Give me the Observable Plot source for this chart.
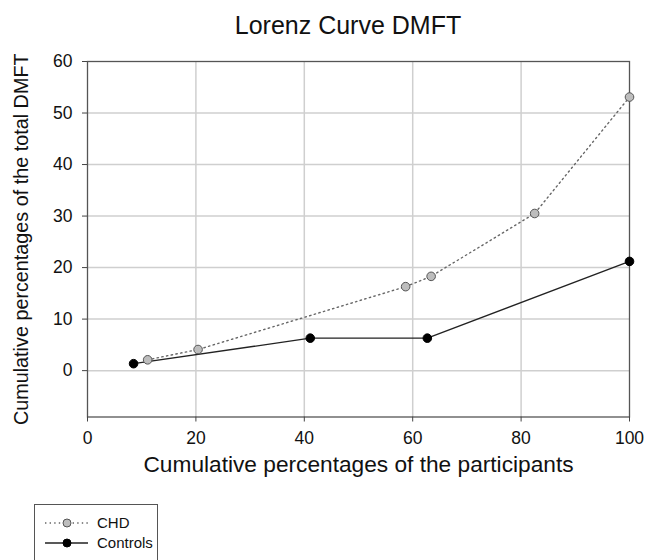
<!DOCTYPE html>
<html>
<head>
<meta charset="utf-8">
<script src="https://cdn.jsdelivr.net/npm/d3@7"></script>
<script src="https://cdn.jsdelivr.net/npm/@observablehq/plot@0.6"></script>
<style>
  body { margin: 0; background: #fff; font-family: "Liberation Sans", Arial, sans-serif; width: 646px; height: 560px; overflow: hidden; position: relative; }
  #title { position: absolute; left: 0; top: 13px; width: 696px; text-align: center; font-size: 25px; line-height: 24px; color: #111; }
  #chart { position: absolute; left: 0; top: 50px; }
  #legend { position: absolute; left: 34px; top: 504px; width: 124px; height: 70px; border: 1px solid #555; box-sizing: border-box; }
</style>
</head>
<body>
<div id="title">Lorenz Curve DMFT</div>
<div id="chart"></div>
<div id="legend"></div>
<script>
// Data
const chdX = [11.1, 20.4, 58.7, 63.4, 82.5, 100];
const chdY = [2.1, 4.1, 16.3, 18.3, 30.5, 53.1];
const ctrlX = [8.5, 41.1, 62.7, 100];
const ctrlY = [1.35, 6.3, 6.3, 21.2];
const xTicks = [0, 20, 40, 60, 80, 100];
const yTicks = [0, 10, 20, 30, 40, 50, 60];
const xGrid = [20, 40, 60, 80];
const yGrid = [0, 10, 20, 30, 40, 50];
const xLabel = "Cumulative percentages of the participants";
const yLabel = "Cumulative percentages of the total DMFT";
const seriesNames = ["CHD", "Controls"];

const chd = chdX.map((x, i) => ({x, y: chdY[i]}));
const ctrl = ctrlX.map((x, i) => ({x, y: ctrlY[i]}));

const plot = Plot.plot({
  width: 646,
  height: 450,
  marginLeft: 87,
  marginRight: 17,
  marginTop: 11,
  marginBottom: 83.5,
  style: {fontFamily: "'Liberation Sans', Arial, sans-serif", fontSize: "17px", color: "#111", background: "#fff", overflow: "visible"},
  x: {domain: [0, 100]},
  y: {domain: [-9, 60]},
  marks: [
    Plot.gridX(xGrid, {stroke: "#cfcfcf", strokeOpacity: 1, strokeWidth: 1.5}),
    Plot.gridY(yGrid, {stroke: "#cfcfcf", strokeOpacity: 1, strokeWidth: 1.5}),
    Plot.frame({stroke: "#555", strokeWidth: 1.3}),
    Plot.axisX(xTicks, {tickSize: 5, tickPadding: 10, label: null, stroke: "#444", fontSize: 17.5}),
    Plot.axisY(yTicks, {tickSize: 5, tickPadding: 10, label: null, stroke: "#444", fontSize: 17.5}),
    Plot.text([xLabel], {frameAnchor: "bottom", lineAnchor: "middle", textAnchor: "middle", dy: 48, fontSize: 22.7, fill: "#111"}),
    Plot.text([yLabel], {frameAnchor: "left", lineAnchor: "middle", textAnchor: "middle", rotate: -90, dx: -66, fontSize: 19.8, fill: "#111"}),
    Plot.line(chd, {x: "x", y: "y", stroke: "#666", strokeWidth: 1.4, strokeDasharray: "1.4,3.4"}),
    Plot.line(ctrl, {x: "x", y: "y", stroke: "#222", strokeWidth: 1.3}),
    Plot.dot(chd, {x: "x", y: "y", r: 4.3, fill: "#bdbdbd", stroke: "#555", strokeWidth: 1}),
    Plot.dot(ctrl, {x: "x", y: "y", r: 4.3, fill: "#000", stroke: "#000", strokeWidth: 1})
  ]
});
document.getElementById("chart").appendChild(plot);

// Legend
const lg = d3.select("#legend").append("svg").attr("width", 124).attr("height", 70);
const rows = [
  {name: seriesNames[0], y: 18, dash: "1.4,3.2", stroke: "#666", fill: "#bdbdbd", dstroke: "#555"},
  {name: seriesNames[1], y: 38, dash: null, stroke: "#222", fill: "#000", dstroke: "#000"}
];
rows.forEach(r => {
  lg.append("line").attr("x1", 10).attr("x2", 53).attr("y1", r.y).attr("y2", r.y)
    .attr("stroke", r.stroke).attr("stroke-width", 1.3).attr("stroke-dasharray", r.dash);
  lg.append("circle").attr("cx", 32).attr("cy", r.y).attr("r", 4).attr("fill", r.fill).attr("stroke", r.dstroke);
  lg.append("text").attr("x", 62).attr("y", r.y + 5).text(r.name)
    .attr("font-size", 15).attr("font-family", "'Liberation Sans', Arial, sans-serif").attr("fill", "#111");
});
</script>
</body>
</html>
